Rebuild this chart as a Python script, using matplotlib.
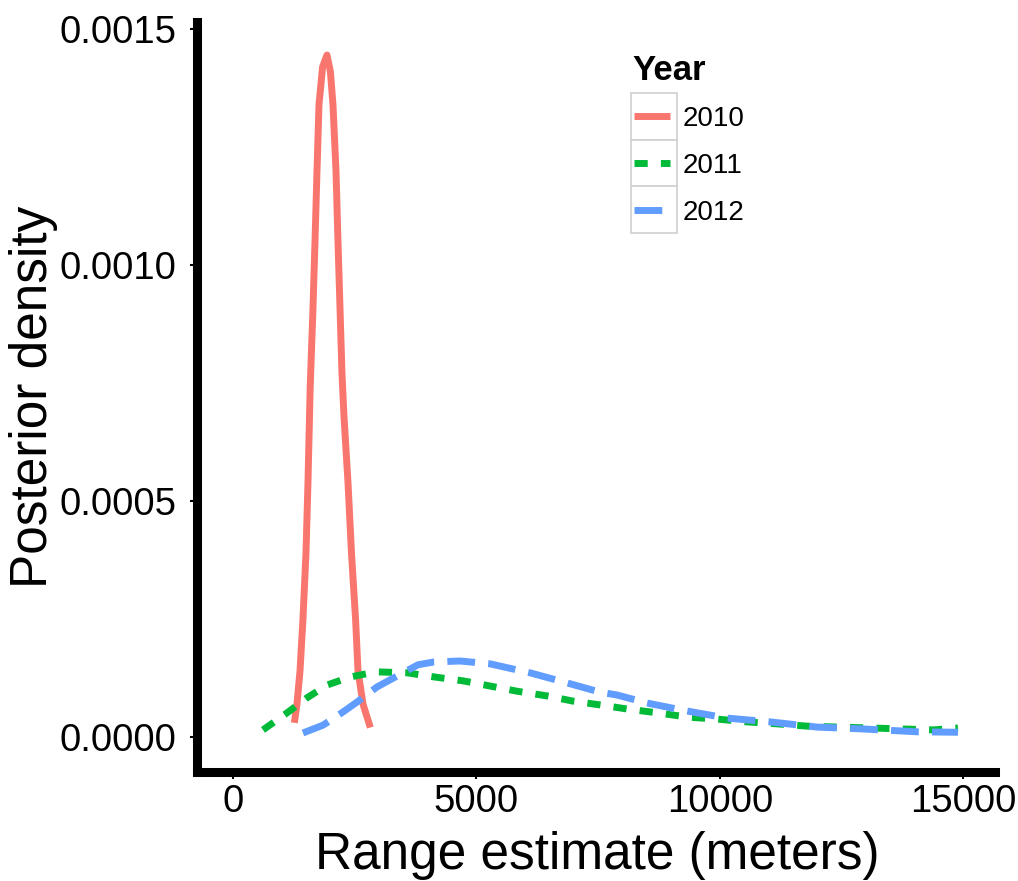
import matplotlib
matplotlib.use("Agg")
import matplotlib.pyplot as plt
from matplotlib.lines import Line2D
from matplotlib.patches import Rectangle

plt.rcParams['font.family'] = ['Liberation Sans', 'DejaVu Sans']

# ---- data ----
years = ["2010", "2011", "2012"]
colors = ["#F8766D", "#00BA38", "#619CFF"]

x_2010 = [1260, 1314, 1376, 1437, 1499, 1540, 1585, 1643, 1684, 1725, 1766, 1840,
          1930, 2000, 2053, 2115, 2156, 2197, 2238, 2279, 2361, 2433, 2517, 2567,
          2669, 2820]
d_2010 = [0.000030, 0.000070, 0.000140, 0.000250, 0.000390, 0.000540, 0.000740,
          0.000910, 0.001050, 0.001200, 0.001340, 0.001420, 0.001445, 0.001410,
          0.001340, 0.001200, 0.001050, 0.000910, 0.000770, 0.000680, 0.000540,
          0.000390, 0.000250, 0.000140, 0.000070, 0.000020]

x_2011 = [616, 1109, 1520, 1930, 2402, 2936, 3573, 4148, 4723, 5277, 5832, 6448,
          6982, 7536, 8111, 8727, 9343, 9938, 10554, 11150, 11786, 12423, 13121,
          13750, 14374, 14887]
d_2011 = [0.000015, 0.000051, 0.000083, 0.000110, 0.000127, 0.000138, 0.000136,
          0.000127, 0.000119, 0.000108, 0.000097, 0.000087, 0.000076, 0.000068,
          0.000059, 0.000051, 0.000042, 0.000038, 0.000032, 0.000028, 0.000023,
          0.000021, 0.000019, 0.000017, 0.000015, 0.000019]

x_2012 = [1437, 1848, 2259, 2546, 2957, 3491, 3799, 4127, 4661, 5277, 6099, 6879,
          7536, 7885, 8501, 9322, 10144, 11027, 11992, 12936, 14045, 14887]
d_2012 = [0.0000085, 0.000025, 0.000053, 0.000074, 0.000106, 0.000136, 0.000153,
          0.000159, 0.000161, 0.000155, 0.000136, 0.000114, 0.000095, 0.000089,
          0.000072, 0.000055, 0.000040, 0.000032, 0.000021, 0.000017, 0.000011,
          0.000010]

x_ticks = [0, 5000, 10000, 15000]
x_tick_labels = ["0", "5000", "10000", "15000"]
y_ticks = [0.0, 0.0005, 0.0010, 0.0015]
y_tick_labels = ["0.0000", "0.0005", "0.0010", "0.0015"]

series_x = [x_2010, x_2011, x_2012]
series_y = [d_2010, d_2011, d_2012]
dash_styles = [None, (1.9, 1.9), (4.0, 1.9)]

# ---- figure ----
W, H = 1018, 881
fig = plt.figure(figsize=(W / 100, H / 100), dpi=100)
fig.patch.set_facecolor("white")


def fx(px):
    return px / W


def fy(py):
    return 1 - py / H


ax = fig.add_axes([fx(197), fy(772), fx(995) - fx(197), fy(22) - fy(772)])
LW = 5.0
for xs, ys, c, ds in zip(series_x, series_y, colors, dash_styles):
    ln, = ax.plot(xs, ys, color=c, lw=LW, solid_capstyle="butt",
                  solid_joinstyle="round", dash_capstyle="butt")
    if ds is not None:
        ln.set_dashes(ds)

ax.set_xlim(-739, 15647)
ax.set_ylim(-0.0000742, 0.001515)
ax.set_xticks(x_ticks)
ax.set_xticklabels(x_tick_labels)
ax.set_yticks(y_ticks)
ax.set_yticklabels(y_tick_labels)
ax.tick_params(axis="both", length=5, width=1.5, color="black",
               labelsize=27.5, labelcolor="black")
ax.tick_params(axis="x", pad=4)
ax.tick_params(axis="y", pad=10)

for s in ["top", "right"]:
    ax.spines[s].set_visible(False)
for s in ["left", "bottom"]:
    ax.spines[s].set_linewidth(6.5)
    ax.spines[s].set_color("black")
    ax.spines[s].set_capstyle("projecting")

ax.set_xlabel("Range estimate (meters)", fontsize=37)
ax.set_ylabel("Posterior density", fontsize=37)
ax.xaxis.set_label_coords(0.501, -0.078)
ax.yaxis.set_label_coords(-0.174, 0.5)

# ---- legend (ggplot-like key boxes) ----
fig.text(fx(632), fy(71), "Year", fontsize=25, fontweight="bold",
         ha="left", va="center")
box_top = 93
box_h = 46.7
for i, (lab, c, ds) in enumerate(zip(years, colors, dash_styles)):
    y0 = box_top + i * box_h
    fig.add_artist(Rectangle((fx(631), fy(y0 + box_h)), fx(677) - fx(631),
                             fy(y0) - fy(y0 + box_h), transform=fig.transFigure,
                             facecolor="white", edgecolor="#D0D0D0", lw=1.2))
    yc = y0 + box_h / 2
    ln = Line2D([fx(634), fx(670)], [fy(yc), fy(yc)], transform=fig.transFigure,
                color=c, lw=LW, solid_capstyle="butt", dash_capstyle="butt")
    if ds is not None:
        ln.set_dashes(ds)
    fig.add_artist(ln)
    fig.text(fx(683), fy(yc + 3), lab, fontsize=20, ha="left", va="center")

fig.savefig("out.png", dpi=100)
